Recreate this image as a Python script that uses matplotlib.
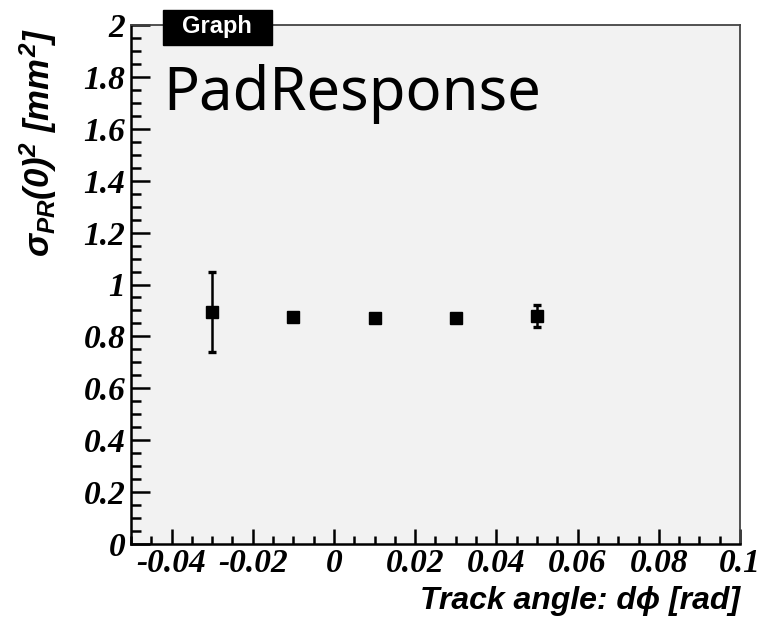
import matplotlib
matplotlib.use("Agg")
import matplotlib.pyplot as plt
from matplotlib.ticker import MultipleLocator, FuncFormatter
from matplotlib.patches import Rectangle
from matplotlib.font_manager import FontProperties

# Pad response width squared vs. track angle
track_angle = [-0.03, -0.01, 0.01, 0.03, 0.05]
sigma_pr2 = [0.893, 0.876, 0.871, 0.871, 0.880]
sigma_err = [0.154, 0.008, 0.008, 0.008, 0.042]

x_ticks = [-0.04, -0.02, 0, 0.02, 0.04, 0.06, 0.08, 0.1]
y_ticks = [0, 0.2, 0.4, 0.6, 0.8, 1, 1.2, 1.4, 1.6, 1.8, 2]

W, H = 765, 617
fig = plt.figure(figsize=(W / 100, H / 100), dpi=100, facecolor="white")
ax = fig.add_axes([131 / W, (H - 544) / H, (740 - 131) / W, (544 - 25) / H])
ax.set_facecolor("#f2f2f2")

ax.errorbar(track_angle, sigma_pr2, yerr=sigma_err, fmt="s", color="black",
            markersize=8, elinewidth=1.8, capsize=3, capthick=2.4, zorder=3)

ax.set_xlim(-0.05, 0.1)
ax.set_ylim(0, 2)
ax.set_xticks(x_ticks)
ax.set_yticks(y_ticks)
ax.xaxis.set_minor_locator(MultipleLocator(0.005))
ax.yaxis.set_minor_locator(MultipleLocator(0.05))


def fmt(v, _pos):
    s = f"{v:.2f}".rstrip("0").rstrip(".")
    if s in ("-0", ""):
        s = "0"
    return s


ax.xaxis.set_major_formatter(FuncFormatter(fmt))
ax.yaxis.set_major_formatter(FuncFormatter(fmt))

tick_fp = FontProperties(family="Liberation Serif", weight="bold",
                         style="italic", size=24)
for lab in ax.get_xticklabels() + ax.get_yticklabels():
    lab.set_fontproperties(tick_fp)

ax.tick_params(axis="x", which="major", direction="in", length=11, width=1.8,
               top=False, pad=3)
ax.tick_params(axis="x", which="minor", direction="in", length=6, width=1.8,
               top=False)
ax.tick_params(axis="y", which="major", direction="in", length=14, width=1.8,
               right=False, pad=4)
ax.tick_params(axis="y", which="minor", direction="in", length=7, width=1.8,
               right=False)

for side in ("left", "bottom"):
    ax.spines[side].set_linewidth(1.8)
    ax.spines[side].set_color("black")
for side in ("top", "right"):
    ax.spines[side].set_linewidth(1.3)
    ax.spines[side].set_color("#444444")

# Axis titles
fig.text(740 / W, (H - 609) / H, "Track angle: d\u03d5 [rad]",
         ha="right", va="baseline",
         family=["Liberation Sans", "DejaVu Sans"], weight="bold",
         style="italic", size=23)

plt.rcParams["mathtext.fontset"] = "custom"
plt.rcParams["mathtext.rm"] = "Liberation Sans:bold:italic"
plt.rcParams["mathtext.it"] = "Liberation Sans:bold:italic"
plt.rcParams["mathtext.bf"] = "Liberation Sans:bold:italic"
fig.text(38 / W, (H - 28) / H, r"$\sigma_{PR}(0)^{2}\ [mm^{2}]$",
         rotation=90, ha="center", va="top", size=25)

# Title box
fig.patches.append(Rectangle((163 / W, (H - 45) / H), (272 - 163) / W, (45 - 10) / H,
                             transform=fig.transFigure, facecolor="black",
                             edgecolor="black", zorder=5))
fig.text(217 / W, (H - 27) / H, "Graph", ha="center", va="center",
         color="white", family="Liberation Sans", weight="bold", size=17,
         zorder=6)

fig.text(163 / W, (H - 110) / H, "PadResponse", ha="left", va="baseline",
         family="Noto Sans", size=43, color="black")

fig.savefig("out.png", dpi=100, facecolor="white")
